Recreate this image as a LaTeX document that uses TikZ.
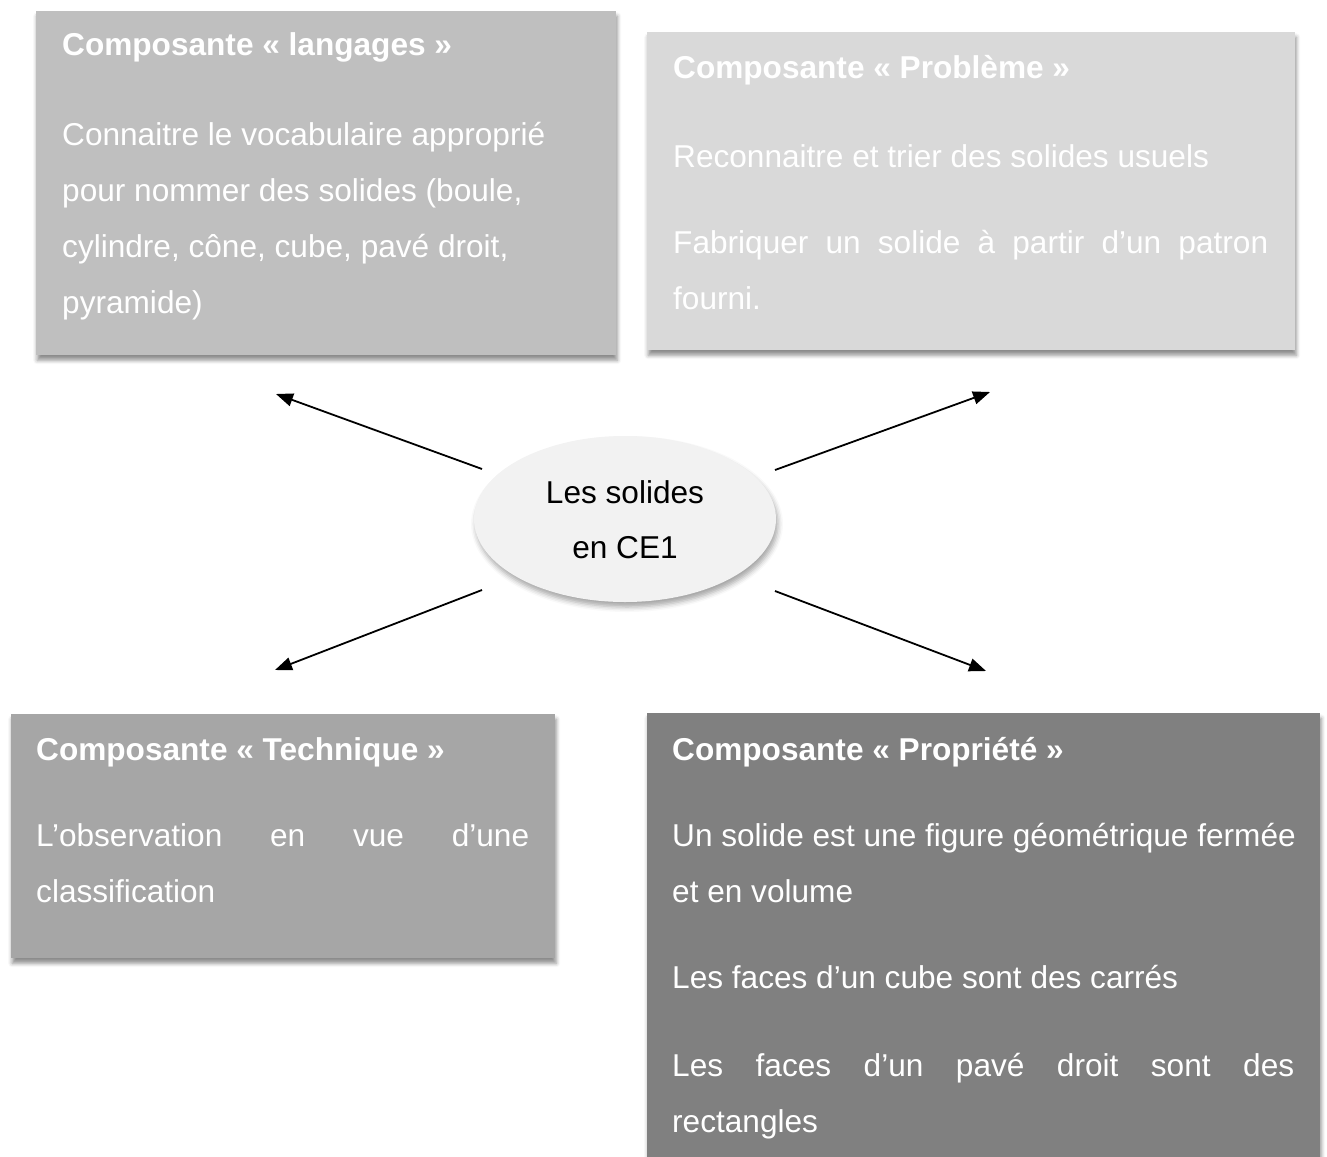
\documentclass[tikz,border=0pt]{standalone}
\usepackage{fontspec}
\setmainfont{Liberation Sans}
\usetikzlibrary{arrows.meta,shadows.blur,shapes.geometric}
\definecolor{cA}{HTML}{BFBFBF}
\definecolor{cB}{HTML}{D9D9D9}
\definecolor{cC}{HTML}{A6A6A6}
\definecolor{cD}{HTML}{808080}
\definecolor{cE}{HTML}{F2F2F2}
\tikzset{
  panel/.style={rectangle, draw=none, anchor=north west, inner sep=0pt,
    blur shadow={shadow xshift=1pt, shadow yshift=-5pt, shadow blur radius=4pt, shadow opacity=45}},
  txt/.style={anchor=base west, inner sep=0pt, text=white, font=\fontsize{31.6}{38}\selectfont},
  ttl/.style={txt, font=\fontsize{31.6}{38}\selectfont\bfseries},
  ctxt/.style={anchor=base, inner sep=0pt, text=black, font=\fontsize{31.6}{38}\selectfont},
  arr/.style={line width=1.8pt, -{Triangle[length=17pt,width=13pt]}}
}
\begin{document}
\begin{tikzpicture}[x=1pt,y=-1pt]
\useasboundingbox (0,0) rectangle (1327,1156);
% panels
\node[panel, fill=cA, minimum width=580pt, minimum height=344pt] (p1) at (36,11) {};
\node[panel, fill=cB, minimum width=648pt, minimum height=318pt] (p2) at (647,32) {};
\node[panel, fill=cC, minimum width=544pt, minimum height=244pt] (p3) at (11,714) {};
\node[panel, fill=cD, minimum width=673pt, minimum height=450pt] (p4) at (647,713) {};
% ellipse
\node[ellipse, fill=cE, minimum width=302pt, minimum height=166pt, inner sep=0pt,
  blur shadow={shadow xshift=2pt, shadow yshift=-5pt, shadow blur radius=5pt, shadow opacity=35}] (c) at (625,519) {};
\node[ctxt] (c1) at (625,503) {Les solides};
\node[ctxt] (c2) at (625,558) {en CE1};
% panel 1
\node[ttl] (t1) at (62,56) {Composante « langages »};
\node[txt] (l11) at (62,145) {Connaitre le vocabulaire approprié};
\node[txt] (l12) at (62,201) {pour nommer des solides (boule,};
\node[txt] (l13) at (62,257) {cylindre, cône, cube, pavé droit,};
\node[txt] (l14) at (62,313) {pyramide)};
% panel 2
\node[ttl] (t2) at (673,78) {Composante « Problème »};
\node[txt] (l21) at (673,167) {Reconnaitre et trier des solides usuels};
\node[txt] (l22) at (673,253) {\makebox[595pt][s]{Fabriquer un solide à partir d’un patron}};
\node[txt] (l23) at (673,309) {fourni.};
% panel 3
\node[ttl] (t3) at (36,760) {Composante « Technique »};
\node[txt] (l31) at (36,846) {\makebox[493pt][s]{L’observation en vue d’une}};
\node[txt] (l32) at (36,902) {classification};
% panel 4
\node[ttl] (t4) at (672,760) {Composante « Propriété »};
\node[txt] (l41) at (672,846) {Un solide est une figure géométrique fermée};
\node[txt] (l42) at (672,902) {et en volume};
\node[txt] (l43) at (672,988) {Les faces d’un cube sont des carrés};
\node[txt] (l44) at (672,1076) {\makebox[622pt][s]{Les faces d’un pavé droit sont des}};
\node[txt] (l45) at (672,1132) {rectangles};
% arrows
\coordinate (a1s) at (482,469);
\coordinate (a1e) at (276,394);
\coordinate (a2s) at (775,470);
\coordinate (a2e) at (990,392);
\coordinate (a3s) at (482,590);
\coordinate (a3e) at (275,670);
\coordinate (a4s) at (775,591);
\coordinate (a4e) at (986,671);
\draw[arr] (a1s) -- (a1e);
\draw[arr] (a2s) -- (a2e);
\draw[arr] (a3s) -- (a3e);
\draw[arr] (a4s) -- (a4e);
\end{tikzpicture}
\end{document}
